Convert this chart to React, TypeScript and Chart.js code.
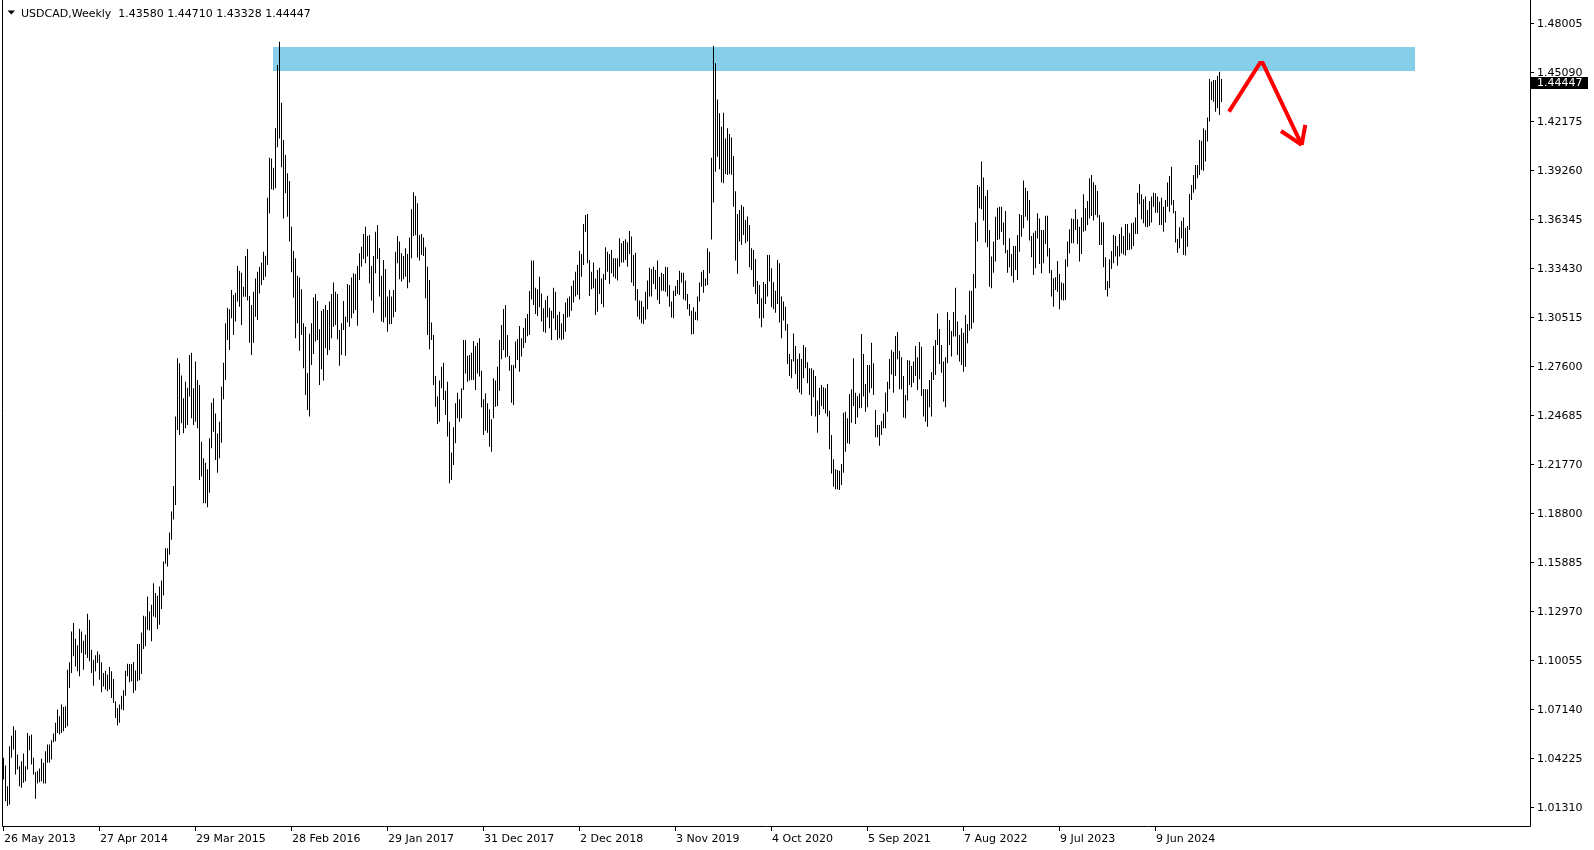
import React, { useEffect, useRef } from "react";
import { Chart, registerables } from "chart.js";

Chart.register(...registerables);

// ---------- header / labels ----------
const symbolTitle = "USDCAD,Weekly";
const lastOHLC = ["1.43580", "1.44710", "1.43328", "1.44447"];
const lastPrice = 1.44447;
const lastPriceLabel = "1.44447";

const yTickLabels = [
  "1.48005", "1.45090", "1.42175", "1.39260", "1.36345", "1.33430", "1.30515", "1.27600", "1.24685",
  "1.21770", "1.18800", "1.15885", "1.12970", "1.10055", "1.07140", "1.04225", "1.01310",
];
const yTickStep = 0.02915;

const xTickLabels = [
  "26 May 2013", "27 Apr 2014", "29 Mar 2015", "28 Feb 2016", "29 Jan 2017", "31 Dec 2017", "2 Dec 2018",
  "3 Nov 2019", "4 Oct 2020", "5 Sep 2021", "7 Aug 2022", "9 Jul 2023", "9 Jun 2024",
];
const xTickEveryWeeks = 48;

// ---------- weekly bars: [high, low] ----------
const weeks2013: [number, number][] = [
  [1.0432, 1.0303], [1.0386, 1.0174], [1.0263, 1.0145], [1.0501, 1.0155], [1.0564, 1.0432], [1.0620, 1.0481],
  [1.0596, 1.0333], [1.0452, 1.0362], [1.0382, 1.0263], [1.0412, 1.0254], [1.0457, 1.0283], [1.0382, 1.0293],
  [1.0580, 1.0362], [1.0564, 1.0477], [1.0570, 1.0392], [1.0432, 1.0333], [1.0347, 1.0188], [1.0353, 1.0279],
  [1.0368, 1.0287], [1.0426, 1.0293], [1.0402, 1.0279], [1.0471, 1.0279], [1.0511, 1.0402], [1.0511, 1.0402],
  [1.0537, 1.0422], [1.0576, 1.0525], [1.0640, 1.0531], [1.0719, 1.0580], [1.0679, 1.0570], [1.0749, 1.0580],
  [1.0735, 1.0590], [1.0739, 1.0610],
];
const weeks2014: [number, number][] = [
  [1.0956, 1.0620], [1.1000, 1.0847], [1.1184, 1.0937], [1.1234, 1.1036], [1.1141, 1.0976], [1.1101, 1.0947],
  [1.1200, 1.0917], [1.1184, 1.1055], [1.1129, 1.0956], [1.1164, 1.1046], [1.1289, 1.1026], [1.1253, 1.1006],
  [1.1075, 1.0937], [1.1016, 1.0861], [1.1042, 1.0947], [1.1065, 1.0996], [1.1046, 1.0897], [1.1000, 1.0822],
  [1.0937, 1.0857], [1.0950, 1.0838], [1.0927, 1.0828], [1.0972, 1.0838], [1.0947, 1.0788], [1.0901, 1.0758],
  [1.0768, 1.0669], [1.0729, 1.0624], [1.0749, 1.0640], [1.0802, 1.0719], [1.0834, 1.0715], [1.0950, 1.0802],
  [1.0992, 1.0917], [1.0990, 1.0881], [1.0990, 1.0887], [1.1002, 1.0818], [1.0952, 1.0832], [1.1109, 1.0887],
  [1.1109, 1.0893], [1.1178, 1.0931], [1.1277, 1.1079], [1.1273, 1.1095], [1.1392, 1.1194], [1.1303, 1.1190],
  [1.1343, 1.1125], [1.1471, 1.1273], [1.1412, 1.1267], [1.1396, 1.1198], [1.1451, 1.1224], [1.1487, 1.1317],
  [1.1600, 1.1398], [1.1679, 1.1586], [1.1679, 1.1570], [1.1772, 1.1640],
];
const weeks2015: [number, number][] = [
  [1.1897, 1.1730], [1.2049, 1.1850], [1.2462, 1.1936], [1.2809, 1.2382], [1.2779, 1.2353], [1.2706, 1.2422],
  [1.2571, 1.2363], [1.2670, 1.2392], [1.2634, 1.2412], [1.2828, 1.2581], [1.2842, 1.2452], [1.2630, 1.2412],
  [1.2789, 1.2432], [1.2680, 1.2392], [1.2650, 1.2085], [1.2313, 1.2105], [1.2214, 1.1946], [1.2188, 1.1946],
  [1.2148, 1.1922], [1.2333, 1.2009], [1.2545, 1.2273], [1.2571, 1.2372], [1.2481, 1.2204], [1.2362, 1.2128],
  [1.2432, 1.2214], [1.2640, 1.2307], [1.2783, 1.2565], [1.3017, 1.2680], [1.3110, 1.2918], [1.3100, 1.2858],
  [1.3215, 1.3047], [1.3185, 1.2947], [1.3199, 1.3027], [1.3358, 1.3146], [1.3330, 1.3116], [1.3318, 1.3007],
  [1.3235, 1.3175], [1.3417, 1.3175], [1.3459, 1.3152], [1.3179, 1.2902], [1.3126, 1.2828], [1.3205, 1.2902],
  [1.3284, 1.3056], [1.3324, 1.3037], [1.3354, 1.3195], [1.3378, 1.3245], [1.3443, 1.3274], [1.3419, 1.3294],
  [1.3764, 1.3364], [1.4002, 1.3671], [1.3998, 1.3814], [1.3943, 1.3810],
];
const weeks2016: [number, number][] = [
  [1.4177, 1.3820], [1.4554, 1.4064], [1.4692, 1.4117], [1.4329, 1.3945], [1.4107, 1.3641], [1.4018, 1.3790],
  [1.3909, 1.3651], [1.3864, 1.3503], [1.3592, 1.3320], [1.3447, 1.3169], [1.3404, 1.2928], [1.3300, 1.3017],
  [1.3290, 1.2854], [1.3219, 1.2947], [1.3017, 1.2749], [1.2997, 1.2591], [1.2721, 1.2501], [1.2955, 1.2462],
  [1.3017, 1.2769], [1.3170, 1.2834], [1.3191, 1.2908], [1.3150, 1.2918], [1.2981, 1.2650], [1.3092, 1.2743],
  [1.3102, 1.2676], [1.3126, 1.2868], [1.3096, 1.2828], [1.3146, 1.2858], [1.3191, 1.2928], [1.3259, 1.2997],
  [1.3205, 1.3007], [1.3191, 1.2922], [1.2977, 1.2765], [1.3017, 1.2828], [1.3150, 1.2977], [1.3056, 1.2824],
  [1.3251, 1.3023], [1.3245, 1.2997], [1.3290, 1.3047], [1.3314, 1.3076], [1.3310, 1.3096], [1.3358, 1.3003],
  [1.3433, 1.3275], [1.3473, 1.3354], [1.3548, 1.3400], [1.3592, 1.3374], [1.3537, 1.3414], [1.3543, 1.3255],
  [1.3358, 1.3152], [1.3417, 1.3080], [1.3562, 1.3314], [1.3602, 1.3400],
];
const weeks2017: [number, number][] = [
  [1.3463, 1.3176], [1.3300, 1.3027], [1.3394, 1.3021], [1.3340, 1.3053], [1.3176, 1.2967], [1.3215, 1.3011],
  [1.3176, 1.3013], [1.3215, 1.3053], [1.3443, 1.3086], [1.3537, 1.3374], [1.3503, 1.3279], [1.3433, 1.3265],
  [1.3417, 1.3279], [1.3463, 1.3294], [1.3429, 1.3225], [1.3528, 1.3259], [1.3695, 1.3404], [1.3796, 1.3536],
  [1.3774, 1.3541], [1.3731, 1.3409], [1.3543, 1.3390], [1.3548, 1.3424], [1.3528, 1.3418], [1.3469, 1.3166],
  [1.3354, 1.2947], [1.3275, 1.2862], [1.3021, 1.2918], [1.2947, 1.2650], [1.2704, 1.2521], [1.2581, 1.2418],
  [1.2676, 1.2432], [1.2759, 1.2630], [1.2783, 1.2561], [1.2616, 1.2472], [1.2670, 1.2343], [1.2432, 1.2065],
  [1.2248, 1.2085], [1.2398, 1.2174], [1.2541, 1.2303], [1.2604, 1.2452], [1.2565, 1.2432], [1.2630, 1.2452],
  [1.2918, 1.2620], [1.2918, 1.2719], [1.2824, 1.2670], [1.2828, 1.2676], [1.2842, 1.2680], [1.2912, 1.2680],
  [1.2882, 1.2620], [1.2902, 1.2719], [1.2928, 1.2700], [1.2735, 1.2517],
];
const weeks2018: [number, number][] = [
  [1.2565, 1.2353], [1.2600, 1.2378], [1.2541, 1.2366], [1.2505, 1.2283], [1.2446, 1.2253], [1.2690, 1.2452],
  [1.2676, 1.2521], [1.2759, 1.2525], [1.2918, 1.2616], [1.3007, 1.2803], [1.3102, 1.2858], [1.3126, 1.2814],
  [1.2947, 1.2818], [1.2822, 1.2735], [1.2769, 1.2545], [1.2769, 1.2531], [1.2908, 1.2749], [1.2924, 1.2799],
  [1.3001, 1.2729], [1.2928, 1.2820], [1.2991, 1.2870], [1.3047, 1.2900], [1.3072, 1.2940], [1.3209, 1.2947],
  [1.3390, 1.3159], [1.3390, 1.3126], [1.3229, 1.3072], [1.3219, 1.3060], [1.3294, 1.3112], [1.3195, 1.3027],
  [1.3106, 1.2967], [1.3156, 1.2961], [1.3181, 1.3052], [1.3110, 1.2987], [1.3092, 1.2918], [1.3229, 1.3047],
  [1.3205, 1.2977], [1.3066, 1.2918], [1.3086, 1.2928], [1.3017, 1.2918], [1.3072, 1.2922], [1.3140, 1.2967],
  [1.3166, 1.3052], [1.3176, 1.3056], [1.3239, 1.3092], [1.3271, 1.3140], [1.3324, 1.3176], [1.3364, 1.3185],
  [1.3449, 1.3159], [1.3429, 1.3294], [1.3608, 1.3364], [1.3661, 1.3562], [1.3667, 1.3374],
];
const weeks2019: [number, number][] = [
  [1.3394, 1.3179], [1.3324, 1.3219], [1.3378, 1.3225], [1.3284, 1.3066], [1.3334, 1.3086], [1.3348, 1.3191],
  [1.3284, 1.3132], [1.3310, 1.3112], [1.3469, 1.3274], [1.3443, 1.3324], [1.3429, 1.3251], [1.3453, 1.3314],
  [1.3404, 1.3294], [1.3404, 1.3284], [1.3404, 1.3271], [1.3523, 1.3354], [1.3493, 1.3378], [1.3507, 1.3378],
  [1.3517, 1.3394], [1.3499, 1.3354], [1.3566, 1.3429], [1.3533, 1.3259], [1.3423, 1.3239], [1.3437, 1.3152],
  [1.3221, 1.3056], [1.3152, 1.3040], [1.3150, 1.3017], [1.3116, 1.3013], [1.3205, 1.3040], [1.3271, 1.3100],
  [1.3348, 1.3176], [1.3338, 1.3176], [1.3354, 1.3251], [1.3334, 1.3219], [1.3390, 1.3156], [1.3294, 1.3132],
  [1.3318, 1.3211], [1.3310, 1.3211], [1.3354, 1.3205], [1.3350, 1.3176], [1.3245, 1.3116], [1.3146, 1.3052],
  [1.3211, 1.3047], [1.3239, 1.3179], [1.3275, 1.3191], [1.3330, 1.3185], [1.3318, 1.3259], [1.3318, 1.3159],
  [1.3271, 1.3152], [1.3191, 1.3100], [1.3132, 1.3062], [1.3092, 1.2951],
];
const weeks2020: [number, number][] = [
  [1.3112, 1.2953], [1.3086, 1.3037], [1.3176, 1.3033], [1.3259, 1.3146], [1.3324, 1.3235], [1.3334, 1.3199],
  [1.3284, 1.3239], [1.3463, 1.3245], [1.3443, 1.3314], [1.4002, 1.3516], [1.4667, 1.3735], [1.4564, 1.3919],
  [1.4349, 1.4008], [1.4266, 1.3933], [1.4187, 1.3854], [1.4270, 1.3850], [1.4117, 1.3905], [1.4177, 1.3899],
  [1.4143, 1.3905], [1.4123, 1.3900], [1.4012, 1.3711], [1.3803, 1.3390], [1.3667, 1.3312], [1.3691, 1.3503],
  [1.3721, 1.3483], [1.3711, 1.3542], [1.3632, 1.3493], [1.3652, 1.3503], [1.3602, 1.3350], [1.3463, 1.3334],
  [1.3453, 1.3235], [1.3400, 1.3191], [1.3269, 1.3132], [1.3245, 1.3047], [1.3166, 1.2993], [1.3263, 1.3047],
  [1.3251, 1.3132], [1.3423, 1.3176], [1.3423, 1.3265], [1.3344, 1.3112], [1.3261, 1.3100], [1.3211, 1.3080],
  [1.3394, 1.3132], [1.3374, 1.3021], [1.3176, 1.2928], [1.3146, 1.3033], [1.3116, 1.2973], [1.3013, 1.2775],
  [1.2834, 1.2704], [1.2803, 1.2690], [1.2957, 1.2789], [1.2882, 1.2716],
];
const weeks2021: [number, number][] = [
  [1.2805, 1.2626], [1.2838, 1.2606], [1.2805, 1.2594], [1.2888, 1.2690], [1.2874, 1.2749], [1.2785, 1.2660],
  [1.2749, 1.2590], [1.2749, 1.2467], [1.2739, 1.2577], [1.2704, 1.2462], [1.2557, 1.2366], [1.2634, 1.2472],
  [1.2650, 1.2525], [1.2636, 1.2505], [1.2630, 1.2481], [1.2656, 1.2462], [1.2497, 1.2267], [1.2353, 1.2124],
  [1.2208, 1.2045], [1.2148, 1.2029], [1.2144, 1.2029], [1.2140, 1.2025], [1.2180, 1.2055], [1.2485, 1.2128],
  [1.2491, 1.2253], [1.2452, 1.2303], [1.2596, 1.2299], [1.2624, 1.2426], [1.2809, 1.2525], [1.2604, 1.2418],
  [1.2584, 1.2456], [1.2600, 1.2511], [1.2953, 1.2515], [1.2834, 1.2581], [1.2656, 1.2491], [1.2769, 1.2517],
  [1.2769, 1.2604], [1.2902, 1.2630], [1.2779, 1.2590], [1.2501, 1.2339], [1.2412, 1.2339], [1.2412, 1.2289],
  [1.2436, 1.2353], [1.2481, 1.2392], [1.2606, 1.2392], [1.2670, 1.2491], [1.2805, 1.2626], [1.2858, 1.2713],
  [1.2848, 1.2604], [1.2941, 1.2704], [1.2965, 1.2803], [1.2854, 1.2624],
];
const weeks2022: [number, number][] = [
  [1.2815, 1.2624], [1.2704, 1.2456], [1.2590, 1.2452], [1.2799, 1.2557], [1.2795, 1.2650], [1.2763, 1.2636],
  [1.2789, 1.2664], [1.2882, 1.2704], [1.2815, 1.2620], [1.2906, 1.2684], [1.2878, 1.2585], [1.2626, 1.2462],
  [1.2624, 1.2432], [1.2624, 1.2402], [1.2680, 1.2517], [1.2727, 1.2462], [1.2882, 1.2680], [1.2918, 1.2709],
  [1.3076, 1.2888], [1.2983, 1.2775], [1.2888, 1.2723], [1.2789, 1.2551], [1.2815, 1.2517], [1.3082, 1.2779],
  [1.3037, 1.2888], [1.2971, 1.2819], [1.3084, 1.2938], [1.3229, 1.2938], [1.3027, 1.2828], [1.2947, 1.2789],
  [1.2987, 1.2769], [1.2961, 1.2729], [1.3066, 1.2759], [1.3013, 1.2898], [1.3211, 1.2973], [1.3211, 1.2985],
  [1.3310, 1.3020], [1.3616, 1.3225], [1.3840, 1.3503], [1.3830, 1.3701], [1.3979, 1.3695], [1.3885, 1.3628],
  [1.3774, 1.3497], [1.3810, 1.3469], [1.3572, 1.3235], [1.3414, 1.3225], [1.3503, 1.3318], [1.3651, 1.3384],
  [1.3705, 1.3513], [1.3711, 1.3517], [1.3711, 1.3562], [1.3616, 1.3483],
];
const weeks2023: [number, number][] = [
  [1.3685, 1.3433], [1.3453, 1.3318], [1.3523, 1.3350], [1.3429, 1.3298], [1.3477, 1.3259], [1.3477, 1.3334],
  [1.3542, 1.3275], [1.3667, 1.3443], [1.3661, 1.3532], [1.3866, 1.3582], [1.3824, 1.3651], [1.3804, 1.3628],
  [1.3751, 1.3509], [1.3536, 1.3410], [1.3556, 1.3304], [1.3568, 1.3344], [1.3671, 1.3522], [1.3641, 1.3370],
  [1.3572, 1.3314], [1.3572, 1.3374], [1.3657, 1.3489], [1.3657, 1.3414], [1.3463, 1.3314], [1.3334, 1.3176],
  [1.3285, 1.3116], [1.3291, 1.3215], [1.3388, 1.3205], [1.3310, 1.3100], [1.3259, 1.3156], [1.3255, 1.3152],
  [1.3398, 1.3156], [1.3503, 1.3354], [1.3576, 1.3433], [1.3641, 1.3493], [1.3638, 1.3493], [1.3695, 1.3572],
  [1.3636, 1.3489], [1.3592, 1.3384], [1.3647, 1.3429], [1.3784, 1.3562], [1.3701, 1.3568], [1.3744, 1.3602],
  [1.3880, 1.3641], [1.3899, 1.3655], [1.3856, 1.3628], [1.3840, 1.3661], [1.3804, 1.3647], [1.3661, 1.3483],
  [1.3618, 1.3483], [1.3618, 1.3350], [1.3410, 1.3215], [1.3269, 1.3176], [1.3398, 1.3225],
];
const weeks2024: [number, number][] = [
  [1.3447, 1.3340], [1.3542, 1.3374], [1.3536, 1.3414], [1.3477, 1.3360], [1.3548, 1.3414], [1.3588, 1.3433],
  [1.3536, 1.3427], [1.3608, 1.3420], [1.3608, 1.3453], [1.3552, 1.3453], [1.3612, 1.3457], [1.3616, 1.3477],
  [1.3647, 1.3548], [1.3794, 1.3548], [1.3844, 1.3725], [1.3784, 1.3636], [1.3755, 1.3612], [1.3771, 1.3592],
  [1.3691, 1.3588], [1.3744, 1.3596], [1.3771, 1.3616], [1.3794, 1.3711], [1.3790, 1.3675], [1.3771, 1.3675],
  [1.3740, 1.3602], [1.3764, 1.3602], [1.3711, 1.3562], [1.3751, 1.3616], [1.3854, 1.3711], [1.3893, 1.3681],
  [1.3949, 1.3721], [1.3751, 1.3671], [1.3685, 1.3497], [1.3519, 1.3437], [1.3588, 1.3463], [1.3626, 1.3523],
  [1.3647, 1.3423], [1.3586, 1.3420], [1.3596, 1.3473], [1.3786, 1.3572], [1.3840, 1.3751], [1.3899, 1.3794],
  [1.3959, 1.3814], [1.3959, 1.3880], [1.4107, 1.3899], [1.4103, 1.3929], [1.4177, 1.3925], [1.4167, 1.3979],
  [1.4242, 1.4098], [1.4470, 1.4217], [1.4455, 1.4345], [1.4465, 1.4335],
];
const weeks2025: [number, number][] = [
  [1.4465, 1.4276], [1.4488, 1.4296], [1.4514, 1.4256], [1.4471, 1.4333],
];

// ---------- drawn objects (week index, price) ----------
const zoneWeeks = [134.75, 705.75];
const zonePrices = [1.45197, 1.46625];
const arrowPath = [
  { x: 612.75, y: 1.4276 },
  { x: 628.25, y: 1.4566 },
  { x: 629.6, y: 1.4566 },
  { x: 649.1, y: 1.4078 },
];
const arrowWingLeft = [
  { x: 638.75, y: 1.4161 },
  { x: 649.1, y: 1.4078 },
];
const arrowWingRight = [
  { x: 650.9, y: 1.4197 },
  { x: 649.1, y: 1.4078 },
];

// ---------- view range ----------
const weekMin = -0.75;
const weekMax = 763.25;
const priceMin = 1.00264;
const priceMax = 1.49403;

const FONT = '11px "DejaVu Sans"';

const mt4Plugin = {
  id: "mt4Look",
  beforeDraw(chart: any) {
    const ctx = chart.ctx;
    ctx.save();
    ctx.fillStyle = "#ffffff";
    ctx.fillRect(0, 0, chart.width, chart.height);
    ctx.restore();
  },
  beforeDatasetsDraw(chart: any) {
    const ctx = chart.ctx;
    const xs = chart.scales.x;
    const ys = chart.scales.y;
    const x0 = xs.getPixelForValue(zoneWeeks[0]);
    const x1 = xs.getPixelForValue(zoneWeeks[1]);
    const y0 = ys.getPixelForValue(zonePrices[1]);
    const y1 = ys.getPixelForValue(zonePrices[0]);
    ctx.save();
    ctx.fillStyle = "#87CEEB";
    ctx.fillRect(Math.round(x0), Math.round(y0), Math.round(x1) - Math.round(x0), Math.round(y1) - Math.round(y0));
    ctx.restore();
  },
  afterDraw(chart: any) {
    const ctx = chart.ctx;
    const area = chart.chartArea;
    const xs = chart.scales.x;
    const ys = chart.scales.y;
    ctx.save();
    // frame
    ctx.strokeStyle = "#000";
    ctx.lineWidth = 1;
    ctx.beginPath();
    ctx.moveTo(area.left + 0.5, 0);
    ctx.lineTo(area.left + 0.5, area.bottom + 0.5);
    ctx.lineTo(area.right + 0.5, area.bottom + 0.5);
    ctx.lineTo(area.right + 0.5, 0);
    ctx.stroke();

    ctx.font = FONT;
    ctx.fillStyle = "#000";
    // y ticks
    ctx.textAlign = "left";
    ctx.textBaseline = "middle";
    const first = parseFloat(yTickLabels[0]);
    yTickLabels.forEach((lab, k) => {
      const v = first - k * yTickStep;
      const py = Math.round(ys.getPixelForValue(v));
      ctx.beginPath();
      ctx.moveTo(area.right + 1, py + 0.5);
      ctx.lineTo(area.right + 4, py + 0.5);
      ctx.stroke();
      ctx.fillText(lab, area.right + 7, py + 1);
    });
    // x ticks
    ctx.textBaseline = "alphabetic";
    xTickLabels.forEach((lab, k) => {
      const px = Math.floor(xs.getPixelForValue(k * xTickEveryWeeks));
      ctx.beginPath();
      ctx.moveTo(px + 0.5, area.bottom + 1);
      ctx.lineTo(px + 0.5, area.bottom + 5);
      ctx.stroke();
      ctx.fillText(lab, px + 1, area.bottom + 16);
    });
    // current price tag
    const pp = ys.getPixelForValue(lastPrice);
    ctx.fillStyle = "#000";
    ctx.fillRect(area.right + 1, Math.round(pp) - 6, 57, 12);
    ctx.fillStyle = "#fff";
    ctx.textBaseline = "middle";
    ctx.fillText(lastPriceLabel, area.right + 7, Math.round(pp) + 0.5);
    // title
    ctx.fillStyle = "#000";
    ctx.beginPath();
    ctx.moveTo(7.5, 10.5);
    ctx.lineTo(15, 10.5);
    ctx.lineTo(11.25, 14.5);
    ctx.closePath();
    ctx.fill();
    ctx.textBaseline = "alphabetic";
    ctx.fillText(symbolTitle + "  " + lastOHLC.join(" "), 21, 17);
    ctx.restore();
  },
};

export default function App() {
  const ref = useRef<HTMLCanvasElement | null>(null);
  useEffect(() => {
    document.body.style.margin = "0";
    document.body.style.overflow = "hidden";
    const weekly = [
      ...weeks2013, ...weeks2014, ...weeks2015, ...weeks2016, ...weeks2017, ...weeks2018, ...weeks2019,
      ...weeks2020, ...weeks2021, ...weeks2022, ...weeks2023, ...weeks2024, ...weeks2025,
    ];
    const barData = weekly.map((hl, i) => ({ x: i, y: [hl[1], hl[0]] }));
    const lineStyle = {
      type: "line" as const,
      borderColor: "#ff0000",
      borderWidth: 4,
      pointRadius: 0,
      tension: 0,
      fill: false,
      borderJoinStyle: "miter" as const,
    };
    const chart = new Chart(ref.current as HTMLCanvasElement, {
      type: "bar",
      data: {
        datasets: [
          { ...lineStyle, data: arrowPath } as any,
          { ...lineStyle, data: arrowWingLeft } as any,
          { ...lineStyle, data: arrowWingRight } as any,
          {
            type: "bar",
            data: barData as any,
            backgroundColor: "#000000",
            borderWidth: 0,
            barThickness: 1,
            inflateAmount: 0,
            grouped: false,
          } as any,
        ],
      },
      options: {
        responsive: false,
        animation: false,
        devicePixelRatio: 1,
        events: [],
        layout: { padding: { left: 2, right: 64, top: 0, bottom: 24 } },
        plugins: { legend: { display: false }, tooltip: { enabled: false }, title: { display: false } },
        scales: {
          x: { type: "linear", min: weekMin, max: weekMax, display: false, offset: false },
          y: { type: "linear", min: priceMin, max: priceMax, display: false },
        },
      },
      plugins: [mt4Plugin],
    });
    return () => chart.destroy();
  }, []);
  return <canvas ref={ref} width={1594} height={850} style={{ display: "block" }} />;
}
